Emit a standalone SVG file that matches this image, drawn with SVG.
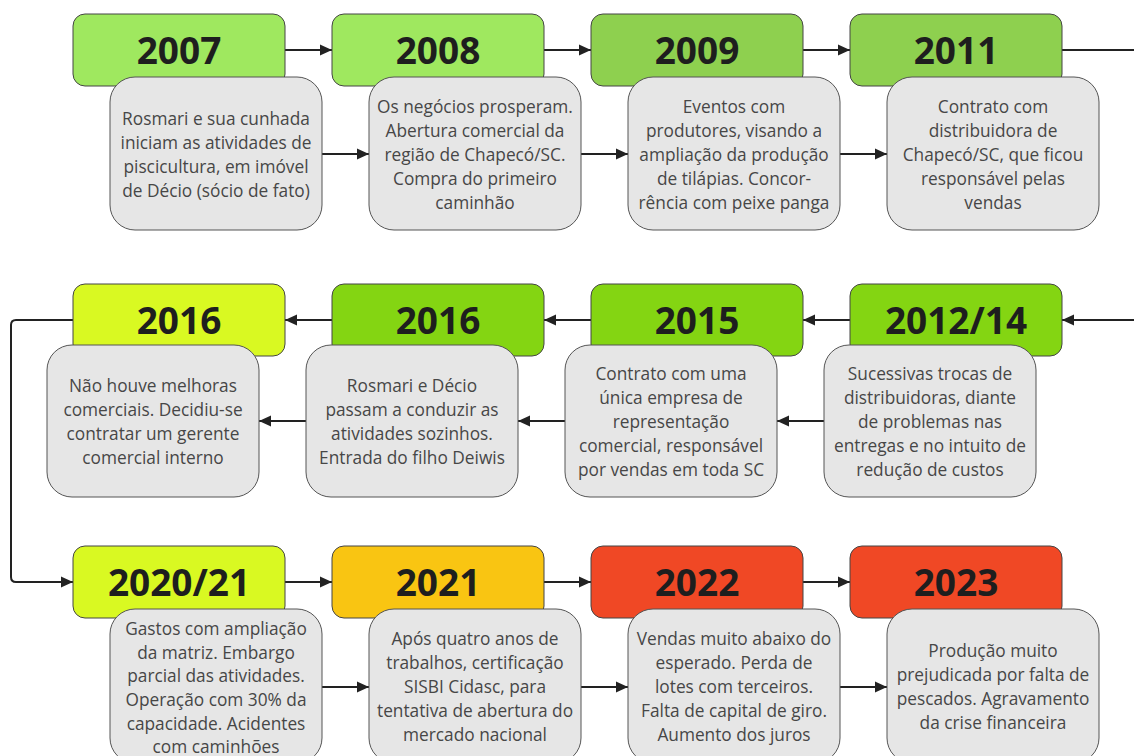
<svg xmlns="http://www.w3.org/2000/svg" width="1134" height="756" viewBox="0 0 1134 756">
<defs>
<style>
.yr{stroke:#444;stroke-width:1}
.yt{font-family:"Open Sans","Noto Sans",sans-serif;font-weight:700;font-size:37px;fill:#1e1e1e;text-anchor:middle}
.tb{fill:#e6e6e6;stroke:#555;stroke-width:1}
.tt{font-family:"Open Sans","Noto Sans",sans-serif;font-size:17.3px;fill:#474747;text-anchor:middle}
.c{fill:none;stroke:#222;stroke-width:2}
.ca{fill:none;stroke:#222;stroke-width:2;marker-end:url(#ah)}
</style>
<marker id="ah" markerWidth="12" markerHeight="12" refX="12" refY="6" orient="auto" markerUnits="userSpaceOnUse">
<path d="M0,0.5 L12,6 L0,11.5 z" fill="#222"/>
</marker>
</defs>
<rect width="1134" height="756" fill="#fff"/>

<g id="connectors">
<path class="ca" d="M285,50 H332"/>
<path class="ca" d="M544,50 H591"/>
<path class="ca" d="M803,50 H850"/>
<path class="c" d="M1062,50 H1134"/>
<path class="ca" d="M322,154 H369"/>
<path class="ca" d="M581,154 H628"/>
<path class="ca" d="M840,154 H887"/>
<path class="ca" d="M1134,320 H1062"/>
<path class="ca" d="M850,320 H803"/>
<path class="ca" d="M591,320 H544"/>
<path class="ca" d="M332,320 H285"/>
<path class="ca" d="M824,421 H777"/>
<path class="ca" d="M565,421 H518"/>
<path class="ca" d="M306,421 H259"/>
<path class="ca" d="M73,320 H16 Q11,320 11,325 V577 Q11,582 16,582 H73"/>
<path class="ca" d="M285,582 H332"/>
<path class="ca" d="M544,582 H591"/>
<path class="ca" d="M803,582 H850"/>
<path class="ca" d="M322,687 H369"/>
<path class="ca" d="M581,687 H628"/>
<path class="ca" d="M840,687 H887"/>
</g>

<g id="n2007">
<rect class="yr" x="73" y="14" width="212" height="72" rx="12" fill="#9fe85f"/>
<text class="yt" x="179" y="64">2007</text>
<rect class="tb" x="110" y="77" width="212" height="153" rx="25"/>
<text class="tt"><tspan x="216" y="125">Rosmari e sua cunhada</tspan><tspan x="216" y="149">iniciam as atividades de</tspan><tspan x="216" y="173">piscicultura, em imóvel</tspan><tspan x="216" y="197">de Décio (sócio de fato)</tspan></text>
</g>

<g id="n2008">
<rect class="yr" x="332" y="14" width="212" height="72" rx="12" fill="#9fe85f"/>
<text class="yt" x="438" y="64">2008</text>
<rect class="tb" x="369" y="77" width="212" height="153" rx="25"/>
<text class="tt"><tspan x="475" y="113">Os negócios prosperam.</tspan><tspan x="475" y="137">Abertura comercial da</tspan><tspan x="475" y="161">região de Chapecó/SC.</tspan><tspan x="475" y="185">Compra do primeiro</tspan><tspan x="475" y="209">caminhão</tspan></text>
</g>

<g id="n2009">
<rect class="yr" x="591" y="14" width="212" height="72" rx="12" fill="#8ed04f"/>
<text class="yt" x="697" y="64">2009</text>
<rect class="tb" x="628" y="77" width="212" height="153" rx="25"/>
<text class="tt"><tspan x="734" y="113">Eventos com</tspan><tspan x="734" y="137">produtores, visando a</tspan><tspan x="734" y="161">ampliação da produção</tspan><tspan x="734" y="185">de tilápias. Concor-</tspan><tspan x="734" y="209">rência com peixe panga</tspan></text>
</g>

<g id="n2011">
<rect class="yr" x="850" y="14" width="212" height="72" rx="12" fill="#8ed04f"/>
<text class="yt" x="956" y="64">2011</text>
<rect class="tb" x="887" y="77" width="212" height="153" rx="25"/>
<text class="tt"><tspan x="993" y="113">Contrato com</tspan><tspan x="993" y="137">distribuidora de</tspan><tspan x="993" y="161">Chapecó/SC, que ficou</tspan><tspan x="993" y="185">responsável pelas</tspan><tspan x="993" y="209">vendas</tspan></text>
</g>

<g id="n2012-14">
<rect class="yr" x="850" y="284" width="212" height="72" rx="12" fill="#84d512"/>
<text class="yt" x="956" y="334">2012/14</text>
<rect class="tb" x="824" y="345" width="212" height="152" rx="25"/>
<text class="tt"><tspan x="930" y="380">Sucessivas trocas de</tspan><tspan x="930" y="404">distribuidoras, diante</tspan><tspan x="930" y="428">de problemas nas</tspan><tspan x="930" y="452">entregas e no intuito de</tspan><tspan x="930" y="476">redução de custos</tspan></text>
</g>

<g id="n2015">
<rect class="yr" x="591" y="284" width="212" height="72" rx="12" fill="#84d512"/>
<text class="yt" x="697" y="334">2015</text>
<rect class="tb" x="565" y="345" width="212" height="152" rx="25"/>
<text class="tt"><tspan x="671" y="380">Contrato com uma</tspan><tspan x="671" y="404">única empresa de</tspan><tspan x="671" y="428">representação</tspan><tspan x="671" y="452">comercial, responsável</tspan><tspan x="671" y="476">por vendas em toda SC</tspan></text>
</g>

<g id="n2016b">
<rect class="yr" x="332" y="284" width="212" height="72" rx="12" fill="#84d512"/>
<text class="yt" x="438" y="334">2016</text>
<rect class="tb" x="306" y="345" width="212" height="152" rx="25"/>
<text class="tt"><tspan x="412" y="392">Rosmari e Décio</tspan><tspan x="412" y="416">passam a conduzir as</tspan><tspan x="412" y="440">atividades sozinhos.</tspan><tspan x="412" y="464">Entrada do filho Deiwis</tspan></text>
</g>

<g id="n2016a">
<rect class="yr" x="73" y="284" width="212" height="72" rx="12" fill="#d9f922"/>
<text class="yt" x="179" y="334">2016</text>
<rect class="tb" x="47" y="345" width="212" height="152" rx="25"/>
<text class="tt"><tspan x="153" y="392">Não houve melhoras</tspan><tspan x="153" y="416">comerciais. Decidiu-se</tspan><tspan x="153" y="440">contratar um gerente</tspan><tspan x="153" y="464">comercial interno</tspan></text>
</g>

<g id="n2020-21">
<rect class="yr" x="73" y="546" width="212" height="72" rx="12" fill="#d9f922"/>
<text class="yt" x="179" y="596">2020/21</text>
<rect class="tb" x="110" y="609" width="212" height="154" rx="25"/>
<text class="tt"><tspan x="216" y="635">Gastos com ampliação</tspan><tspan x="216" y="659">da matriz. Embargo</tspan><tspan x="216" y="682">parcial das atividades.</tspan><tspan x="216" y="706">Operação com 30% da</tspan><tspan x="216" y="730">capacidade. Acidentes</tspan><tspan x="216" y="753">com caminhões</tspan></text>
</g>

<g id="n2021">
<rect class="yr" x="332" y="546" width="212" height="72" rx="12" fill="#f9c512"/>
<text class="yt" x="438" y="596">2021</text>
<rect class="tb" x="369" y="609" width="212" height="154" rx="25"/>
<text class="tt"><tspan x="475" y="645">Após quatro anos de</tspan><tspan x="475" y="669">trabalhos, certificação</tspan><tspan x="475" y="693">SISBI Cidasc, para</tspan><tspan x="475" y="717">tentativa de abertura do</tspan><tspan x="475" y="741">mercado nacional</tspan></text>
</g>

<g id="n2022">
<rect class="yr" x="591" y="546" width="212" height="72" rx="12" fill="#f04825"/>
<text class="yt" x="697" y="596">2022</text>
<rect class="tb" x="628" y="609" width="212" height="154" rx="25"/>
<text class="tt"><tspan x="734" y="645">Vendas muito abaixo do</tspan><tspan x="734" y="669">esperado. Perda de</tspan><tspan x="734" y="693">lotes com terceiros.</tspan><tspan x="734" y="717">Falta de capital de giro.</tspan><tspan x="734" y="741">Aumento dos juros</tspan></text>
</g>

<g id="n2023">
<rect class="yr" x="850" y="546" width="212" height="72" rx="12" fill="#f04825"/>
<text class="yt" x="956" y="596">2023</text>
<rect class="tb" x="887" y="609" width="212" height="154" rx="25"/>
<text class="tt"><tspan x="993" y="657">Produção muito</tspan><tspan x="993" y="681">prejudicada por falta de</tspan><tspan x="993" y="705">pescados. Agravamento</tspan><tspan x="993" y="729">da crise financeira</tspan></text>
</g>
</svg>
